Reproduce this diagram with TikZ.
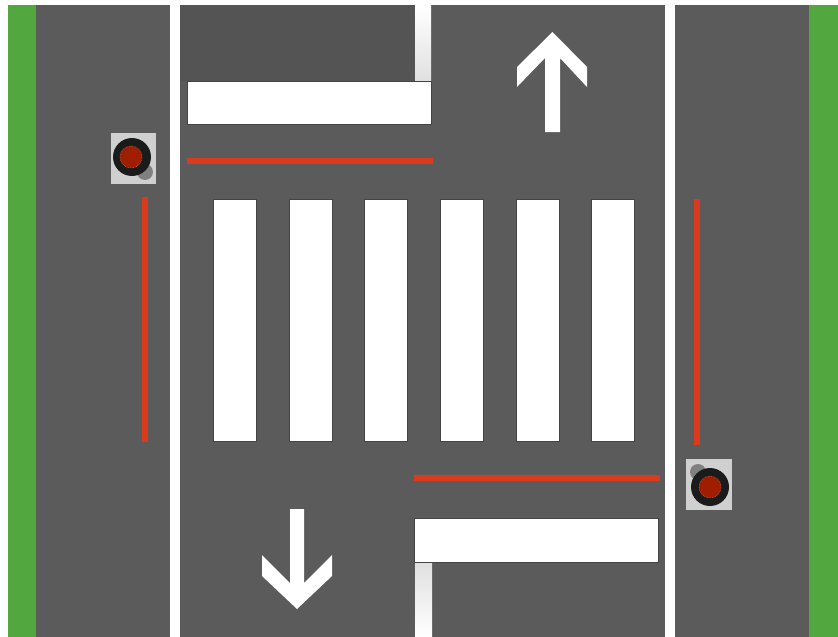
\documentclass[tikz,border=0pt]{standalone}
\definecolor{grassc}{HTML}{52A83F}
\definecolor{roadc}{HTML}{5B5B5B}
\definecolor{darkc}{HTML}{545454}
\definecolor{redc}{HTML}{DC3A1C}
\definecolor{panelc}{HTML}{D0D0D0}
\definecolor{knobc}{HTML}{1A1C1C}
\definecolor{lampc}{HTML}{A01E00}
\definecolor{lampedge}{HTML}{C8604A}
\definecolor{backc}{HTML}{808080}
\definecolor{edgec}{HTML}{444444}
\tikzset{
 paint/.style={fill=white,draw=none},
 stripe/.style={fill=white,draw=edgec,line width=.6pt},
 redline/.style={draw=redc,line width=6pt},
 panel/.style={fill=panelc,draw=none},
 back/.style={fill=backc,draw=none},
 knob/.style={fill=knobc,draw=none},
 lamp/.style={fill=lampc,draw=lampedge,line width=.6pt,densely dotted},
}
\begin{document}
\begin{tikzpicture}[x=1pt,y=-1pt]
\useasboundingbox (0,0) rectangle (838,637);
\fill[white] (0,0) rectangle (838,637);
% ground
\fill[grassc] (8,5) rectangle (36,637);
\fill[grassc] (809,5) rectangle (838,637);
\fill[roadc] (36,5) rectangle (809,637);
\fill[darkc] (180,5) rectangle (415,81);
% long edge lines
\fill[paint] (170,5) rectangle (180,637);
\fill[paint] (665,5) rectangle (675,637);
% stubs
\shade[top color=white,bottom color=black!12] (415,5) rectangle (431,80);
\shade[top color=black!12,bottom color=white] (415,563) rectangle (432,637);
% stop bars
\draw[stripe] (187,81) rectangle (431,124);
\draw[stripe] (414,518) rectangle (658,562);
% red lines
\draw[redline] (187,161) -- (433,161);
\draw[redline] (414,478) -- (660,478);
\draw[redline] (145,197) -- (145,442);
\draw[redline] (697,199) -- (697,445);
% crossing
\foreach \a in {213,289,364,440,516,591}
  \draw[stripe] (\a,199) rectangle (\a+43,441);
% arrows
\fill[paint] (552.5,32) -- (587,67) -- (587,87) -- (560,58) -- (560,132) -- (545,132) -- (545,58) -- (517,87) -- (517,67) -- cycle;
\fill[paint] (297,609) -- (332,576) -- (332,555) -- (304,583) -- (304,509) -- (290,509) -- (290,583) -- (262,555) -- (262,576) -- cycle;
% buttons
\fill[panel] (111,133) rectangle (156,184);
\fill[back] (145,172) circle (8);
\fill[knob] (132,157) circle (19);
\draw[lamp] (131,157) circle (11);
\fill[panel] (686,459) rectangle (732,510);
\fill[back] (698,472) circle (8);
\fill[knob] (710,487) circle (19);
\draw[lamp] (710,487) circle (11);
\end{tikzpicture}
\end{document}
